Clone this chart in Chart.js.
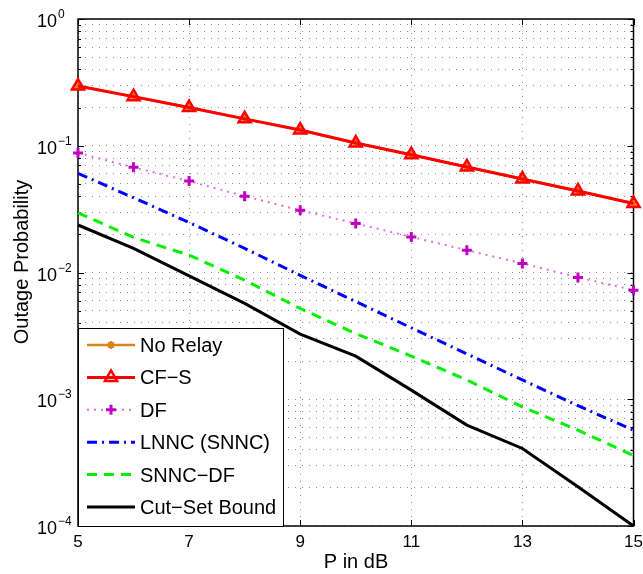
<!DOCTYPE html>
<html>
<head>
<meta charset="utf-8">
<script src="https://cdn.jsdelivr.net/npm/chart.js@4/dist/chart.umd.min.js"></script>
<style>
  html, body { margin: 0; padding: 0; background: #fff; }
  #wrap { width: 643px; height: 574px; }
</style>
</head>
<body>
<div id="wrap"><canvas id="outageChart" width="643" height="574"></canvas></div>
<script>
// Trục x: công suất P (dB)
var pdB = [5, 6, 7, 8, 9, 10, 11, 12, 13, 14, 15];

// Xác suất dừng của từng phương án
var cfS = [0.296, 0.244, 0.200, 0.163, 0.133, 0.105, 0.085, 0.068, 0.0546, 0.044, 0.035];
var noRelay = [0.296, 0.244, 0.200, 0.163, 0.133, 0.105, 0.085, 0.068, 0.0546, 0.044, 0.035];
var df = [0.0876, 0.0676, 0.0526, 0.040, 0.031, 0.0244, 0.0191, 0.0150, 0.0118, 0.00915, 0.00726];
var lnnc = [0.0606, 0.0389, 0.0248, 0.0155, 0.0095, 0.0059, 0.00366, 0.00228, 0.00142, 0.00089, 0.00057];
var snncDf = [0.0296, 0.0189, 0.0137, 0.0087, 0.0052, 0.0033, 0.00219, 0.00142, 0.00087, 0.00057, 0.00036];
var cutSet = [0.0237, 0.0155, 0.0094, 0.0057, 0.00327, 0.00219, 0.00118, 0.000625, 0.000409, 0.000204, 0.0001];

// Nhãn trục
var xTicks = [5, 7, 9, 11, 13, 15];
var xTickLabels = ['5', '7', '9', '11', '13', '15'];
var yDecades = [1e-4, 1e-3, 1e-2, 1e-1, 1];
var yExponents = ['\u22124', '\u22123', '\u22122', '\u22121', '0'];

var FONT = '"Liberation Sans", Arial, Helvetica, sans-serif';

// Vạch lưới phụ của trục log: 1..9 x 10^n
var yGridTicks = [];
for (var d = 0; d < yDecades.length; d++) {
    if (d === yDecades.length - 1) { yGridTicks.push(yDecades[d]); break; }
    for (var m = 1; m <= 9; m++) yGridTicks.push(m * yDecades[d]);
}

function toPoints(arr) {
    return arr.map(function (v, i) { return { x: pdB[i], y: v }; });
}

// Vẽ ký hiệu điểm cho chú thích
function drawMarker(ctx, style, x, y, r) {
    ctx.beginPath();
    if (style === 'triangle') {
        ctx.moveTo(x, y - r);
        ctx.lineTo(x + 0.866 * r, y + r / 2);
        ctx.lineTo(x - 0.866 * r, y + r / 2);
        ctx.closePath();
    } else if (style === 'cross') {
        ctx.moveTo(x - r, y); ctx.lineTo(x + r, y);
        ctx.moveTo(x, y - r); ctx.lineTo(x, y + r);
    } else if (style === 'star') {
        ctx.moveTo(x - r, y); ctx.lineTo(x + r, y);
        ctx.moveTo(x, y - r); ctx.lineTo(x, y + r);
        var k = r * 0.707;
        ctx.moveTo(x - k, y - k); ctx.lineTo(x + k, y + k);
        ctx.moveTo(x - k, y + k); ctx.lineTo(x + k, y - k);
    }
    ctx.stroke();
}

var legendItems = [
    { label: 'No Relay', color: '#d9821e', width: 2.5, dash: [], marker: 'star', r: 4, mw: 2 },
    { label: 'CF\u2212S', color: '#ff0000', width: 3, dash: [], marker: 'triangle', r: 7, mw: 2.5 },
    { label: 'DF', color: '#e070e0', width: 2, dash: [2, 5], marker: 'cross', r: 5, mw: 3, mcolor: '#c000c0' },
    { label: 'LNNC (SNNC)', color: '#0000ff', width: 3, dash: [10, 5, 2, 5], marker: null },
    { label: 'SNNC\u2212DF', color: '#00f000', width: 3, dash: [10, 7], marker: null },
    { label: 'Cut\u2212Set Bound', color: '#000000', width: 3, dash: [], marker: null }
];

var framePlugin = {
    id: 'frame',
    beforeDatasetsDraw: function (chart) {
        var ctx = chart.ctx, a = chart.chartArea;
        var xs = chart.scales.x, ys = chart.scales.y;
        ctx.save();
        ctx.strokeStyle = '#000';
        ctx.lineWidth = 1.5;
        ctx.strokeRect(a.left, a.top, a.right - a.left, a.bottom - a.top);
        ctx.lineWidth = 1;
        ctx.beginPath();
        xTicks.forEach(function (v) {
            var px = Math.round(xs.getPixelForValue(v)) + 0.5;
            ctx.moveTo(px, a.bottom); ctx.lineTo(px, a.bottom - 6);
            ctx.moveTo(px, a.top); ctx.lineTo(px, a.top + 6);
        });
        yGridTicks.forEach(function (v) {
            var py = Math.round(ys.getPixelForValue(v)) + 0.5;
            var len = yDecades.indexOf(v) >= 0 ? 6 : 3;
            ctx.moveTo(a.left, py); ctx.lineTo(a.left + len, py);
            ctx.moveTo(a.right, py); ctx.lineTo(a.right - len, py);
        });
        ctx.stroke();
        ctx.restore();
    },
    afterDraw: function (chart) {
        var ctx = chart.ctx, a = chart.chartArea;
        var xs = chart.scales.x, ys = chart.scales.y;
        ctx.save();
        ctx.fillStyle = '#000';

        // Nhãn trục x
        ctx.font = '17px ' + FONT;
        ctx.textAlign = 'center';
        ctx.textBaseline = 'alphabetic';
        xTicks.forEach(function (v, i) {
            ctx.fillText(xTickLabels[i], xs.getPixelForValue(v), 547);
        });

        // Nhãn trục y dạng 10^n
        yDecades.forEach(function (v, i) {
            var py = ys.getPixelForValue(v);
            ctx.font = '18px ' + FONT;
            ctx.textAlign = 'right';
            ctx.fillText('10', 57, py + 8);
            ctx.font = '12px ' + FONT;
            ctx.textAlign = 'left';
            ctx.fillText(yExponents[i], 58, py - 1);
        });

        // Tiêu đề trục
        ctx.font = '20px ' + FONT;
        ctx.textAlign = 'center';
        ctx.fillText('P in dB', 356, 568);
        ctx.save();
        ctx.translate(28, 262);
        ctx.rotate(-Math.PI / 2);
        ctx.fillText('Outage Probability', 0, 0);
        ctx.restore();

        // Chú thích
        var bx = a.left, by = 328, bw = 283 - a.left, bh = a.bottom - 328;
        ctx.fillStyle = '#fff';
        ctx.fillRect(bx, by, bw, bh);
        ctx.strokeStyle = '#000';
        ctx.lineWidth = 1;
        ctx.strokeRect(bx + 0.5, by + 0.5, bw, bh);
        legendItems.forEach(function (it, i) {
            var ry = 345 + i * 32.4;
            ctx.strokeStyle = it.color;
            ctx.lineWidth = it.width;
            ctx.setLineDash(it.dash);
            ctx.beginPath();
            ctx.moveTo(87, ry); ctx.lineTo(135, ry);
            ctx.stroke();
            ctx.setLineDash([]);
            if (it.marker) {
                ctx.strokeStyle = it.mcolor || it.color;
                ctx.lineWidth = it.mw;
                drawMarker(ctx, it.marker, 111, ry, it.r);
            }
            ctx.fillStyle = '#000';
            ctx.font = '20px ' + FONT;
            ctx.textAlign = 'left';
            ctx.fillText(it.label, 140, ry + 7);
        });
        ctx.restore();
    }
};

var ctx = document.getElementById('outageChart').getContext('2d');
var outageChart = new Chart(ctx, {
    type: 'line',
    data: {
        datasets: [
            {
                label: 'CF-S', data: toPoints(cfS),
                borderColor: '#ff0000', borderWidth: 3, tension: 0,
                pointStyle: 'triangle', pointRadius: 7, pointBorderWidth: 2.5,
                pointBorderColor: '#ff0000', pointBackgroundColor: 'rgba(0,0,0,0)', clip: false
            },
            {
                label: 'DF', data: toPoints(df),
                borderColor: '#e070e0', borderWidth: 2, borderDash: [2, 5], tension: 0,
                pointStyle: 'cross', pointRadius: 5, pointBorderWidth: 3,
                pointBorderColor: '#c000c0', clip: false
            },
            {
                label: 'LNNC (SNNC)', data: toPoints(lnnc),
                borderColor: '#0000ff', borderWidth: 3, borderDash: [10, 5, 2, 5], tension: 0,
                pointRadius: 0, clip: false
            },
            {
                label: 'SNNC-DF', data: toPoints(snncDf),
                borderColor: '#00f000', borderWidth: 3, borderDash: [10, 7], tension: 0,
                pointRadius: 0, clip: false
            },
            {
                label: 'Cut-Set Bound', data: toPoints(cutSet),
                borderColor: '#000000', borderWidth: 3, tension: 0,
                pointRadius: 0, clip: false
            },
            {
                label: 'No Relay', data: toPoints(noRelay),
                borderColor: '#d9821e', borderWidth: 2.5, tension: 0,
                pointStyle: 'star', pointRadius: 4, pointBorderWidth: 2,
                pointBorderColor: '#d9821e', clip: false
            }
        ]
    },
    options: {
        responsive: false,
        animation: false,
        devicePixelRatio: 1,
        layout: { padding: { top: 19, right: 9, left: 0, bottom: 0 } },
        plugins: { legend: { display: false }, tooltip: { enabled: false } },
        scales: {
            x: {
                type: 'linear', min: 5, max: 15,
                afterBuildTicks: function (s) { s.ticks = xTicks.map(function (v) { return { value: v }; }); },
                afterFit: function (s) { s.height = 48; },
                ticks: { display: false },
                grid: { color: '#8c8c8c', lineWidth: 1, drawTicks: false },
                border: { display: false, dash: [1, 6] }
            },
            y: {
                type: 'logarithmic', min: 1e-4, max: 1,
                afterBuildTicks: function (s) { s.ticks = yGridTicks.map(function (v) { return { value: v }; }); },
                afterFit: function (s) { s.width = 78; },
                ticks: { display: false },
                grid: { color: '#8c8c8c', lineWidth: 1, drawTicks: false },
                border: { display: false, dash: [1, 6] }
            }
        }
    },
    plugins: [framePlugin]
});
</script>
</body>
</html>
